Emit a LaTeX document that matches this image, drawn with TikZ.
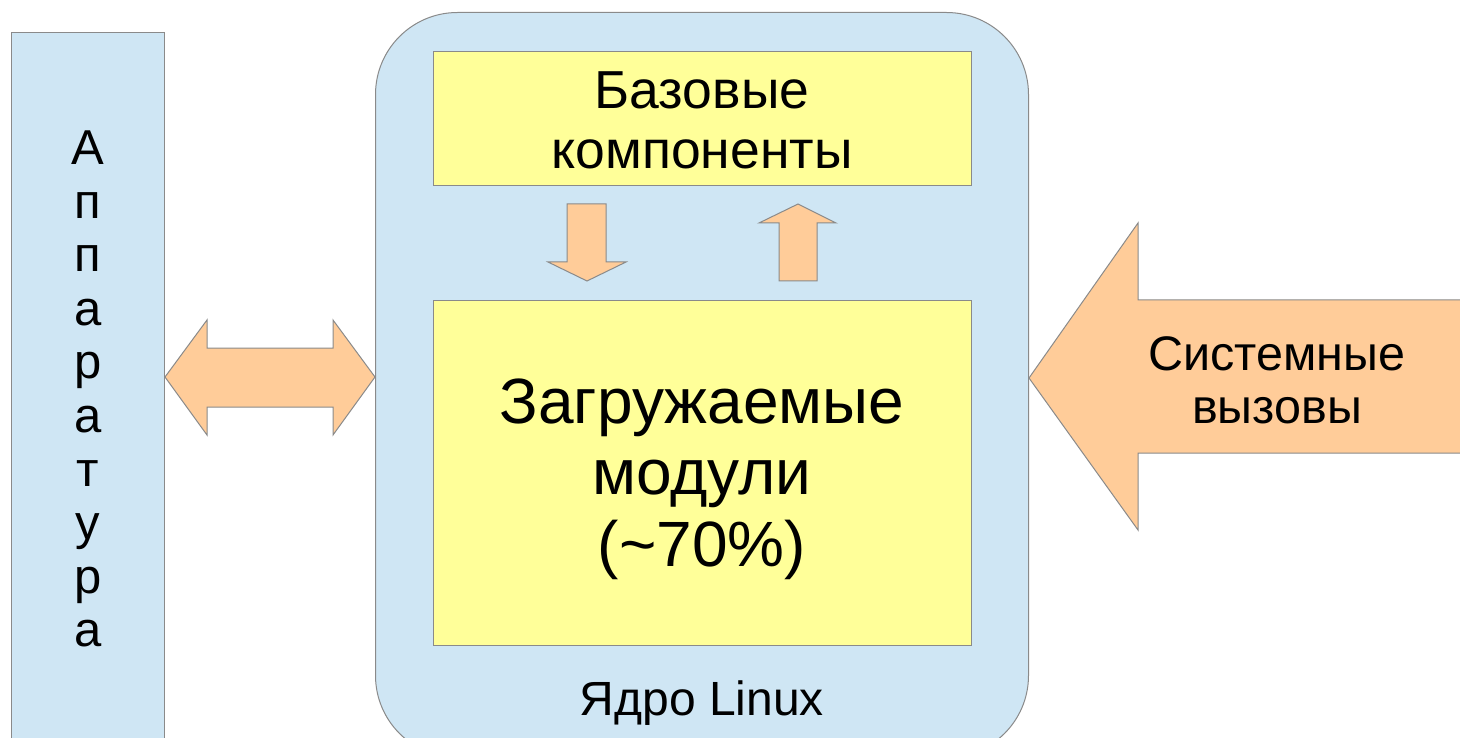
\documentclass[tikz,border=0pt]{standalone}
\usepackage{fontspec}
\setmainfont{Liberation Sans}
\definecolor{paleblue}{HTML}{CFE6F4}
\definecolor{paleyellow}{HTML}{FFFF99}
\definecolor{peach}{HTML}{FFCC99}
\definecolor{edgegray}{HTML}{8A8A8A}
\tikzset{
  panel/.style={draw=edgegray, line width=1pt, inner sep=0pt, anchor=north west},
  bluepanel/.style={panel, fill=paleblue},
  yellowpanel/.style={panel, fill=paleyellow},
  shapearrow/.style={draw=edgegray, line width=1pt, fill=peach, line join=miter},
  caption/.style={align=center, inner sep=0pt, text=black}
}
\begin{document}
\begin{tikzpicture}[x=1pt, y=-1pt]
  \useasboundingbox (0,0) rectangle (1460,738);
  \clip (0,0) rectangle (1460,738);

  % hardware column on the left
  \node[bluepanel, minimum width=153pt, minimum height=740pt] (hw) at (11,32) {};
  \node[caption, font=\fontsize{49}{53.6}\selectfont] (hwtext) at (88,389)
    {А\\п\\п\\а\\р\\а\\т\\у\\р\\а};

  % kernel container
  \node[bluepanel, rounded corners=82pt, minimum width=653pt, minimum height=745pt] (kernel) at (375,12) {};
  \node[caption, font=\fontsize{48}{56}\selectfont] (kerneltext) at (702,703) {Ядро Linux};

  % core components and loadable modules
  \node[yellowpanel, minimum width=538pt, minimum height=134pt] (core) at (433,51) {};
  \node[caption, font=\fontsize{53.5}{60}\selectfont] (coretext) at (702,120) {Базовые\\компоненты};

  \node[yellowpanel, minimum width=538pt, minimum height=345pt] (mods) at (433,300) {};
  \node[caption, font=\fontsize{64}{71.5}\selectfont] (modstext) at (702,479) {Загружаемые\\модули\\(\textasciitilde70\%)};

  % arrows between core and modules
  \draw[shapearrow] (567,204) -- (606,204) -- (606,262) -- (626,262) -- (587,281)
                    -- (548,262) -- (567,262) -- cycle;
  \draw[shapearrow] (798,204) -- (836,223) -- (817,223) -- (817,281) -- (779,281)
                    -- (779,223) -- (759,223) -- cycle;

  % hardware <-> kernel
  \draw[shapearrow] (165,377) -- (207,320) -- (207,348) -- (333,348) -- (333,320)
                    -- (375,377) -- (333,435) -- (333,407) -- (207,407) -- (207,435) -- cycle;

  % system calls entering the kernel
  \draw[shapearrow] (1029,378) -- (1138,223) -- (1138,300) -- (1470,300) -- (1470,453)
                    -- (1138,453) -- (1138,530) -- cycle;
  \node[caption, font=\fontsize{48.5}{53}\selectfont] (sctext) at (1277,380) {Системные\\вызовы};
\end{tikzpicture}
\end{document}
